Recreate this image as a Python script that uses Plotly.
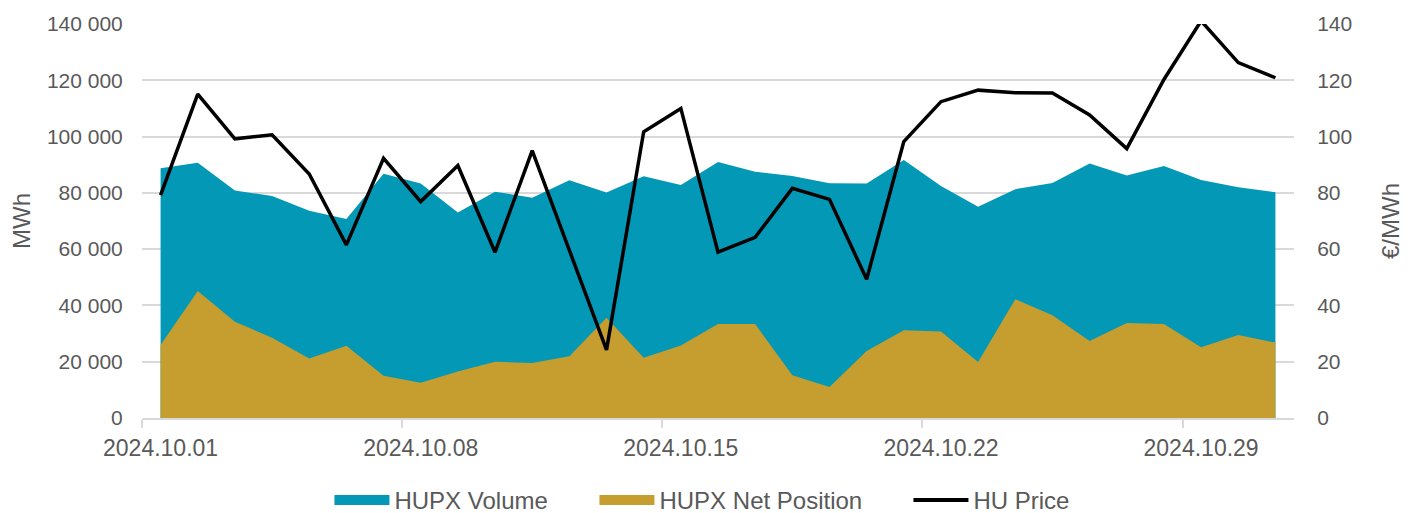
import pandas as pd
import plotly.graph_objects as go

dates = pd.date_range("2024-10-01", "2024-10-31", freq="D")

hupx_volume = [88700, 90700, 80800, 78900, 73600, 70700, 86800, 83300, 73000, 80400,
               78300, 84500, 80100, 85900, 82800, 91000, 87500, 86000, 83400, 83300,
               91700, 82400, 75100, 81300, 83500, 90400, 86200, 89500, 84600, 82000, 80200]
hupx_net_position = [25900, 45100, 34200, 28500, 21100, 25700, 15000, 12500, 16500, 20000,
                     19500, 21900, 35600, 21400, 25800, 33400, 33400, 15200, 11000, 23800,
                     31200, 30700, 19900, 42200, 36500, 27400, 33800, 33400, 25100, 29500, 26800]
hu_price = [79.2, 115.1, 99.2, 100.6, 86.7, 61.5, 92.3, 76.9, 89.7, 58.9,
            95.0, 59.5, 24.2, 101.7, 110.0, 58.9, 64.2, 81.6, 77.7, 49.3,
            98.2, 112.4, 116.5, 115.6, 115.5, 107.7, 95.7, 120.3, 141.1, 126.3, 120.9]

tick_dates = ["2024-10-01", "2024-10-08", "2024-10-15", "2024-10-22", "2024-10-29"]
tick_labels = ["2024.10.01", "2024.10.08", "2024.10.15", "2024.10.22", "2024.10.29"]
minor_tick_dates = ["2024-09-30 12:00", "2024-10-07 12:00", "2024-10-14 12:00",
                    "2024-10-21 12:00", "2024-10-28 12:00"]

VOL_COLOR = "#0398B6"
NET_COLOR = "#C69D2F"
TEXT = "#595959"
GRID = "#D9D9D9"
FONT = "Liberation Sans, Arial, sans-serif"

fig = go.Figure()
fig.add_trace(go.Scatter(x=dates, y=hupx_volume, name="HUPX Volume", mode="none",
                         fill="tozeroy", fillcolor=VOL_COLOR, showlegend=False))
fig.add_trace(go.Scatter(x=dates, y=hupx_net_position, name="HUPX Net Position", mode="none",
                         fill="tozeroy", fillcolor=NET_COLOR, showlegend=False))
fig.add_trace(go.Scatter(x=dates, y=hu_price, name="HU Price", mode="lines",
                         line=dict(color="black", width=3.5), yaxis="y2", showlegend=False))

# legend entries (thick swatches like the original's filled-area keys)
fig.add_trace(go.Scatter(x=[None], y=[None], name="HUPX Volume", mode="lines",
                         line=dict(color=VOL_COLOR, width=12), legendwidth=195))
fig.add_trace(go.Scatter(x=[None], y=[None], name="HUPX Net Position", mode="lines",
                         line=dict(color=NET_COLOR, width=12), legendwidth=244))
fig.add_trace(go.Scatter(x=[None], y=[None], name="HU Price", mode="lines",
                         line=dict(color="black", width=4), yaxis="y2"))

# page body has an 8px margin, so the figure is sized/offset to compensate
fig.update_layout(
    width=1400, height=505,
    margin=dict(l=134, r=114, t=16, b=95, autoexpand=False),
    paper_bgcolor="white", plot_bgcolor="white",
    separators=". ",
    font=dict(family=FONT, color=TEXT, size=21),
    showlegend=True,
    legend=dict(orientation="h", x=0.4865, xanchor="center",
                yref="container", y=0.025, yanchor="middle",
                itemwidth=55,
                font=dict(size=24, color=TEXT), traceorder="normal"),
    xaxis=dict(
        range=["2024-09-30 12:00", "2024-10-31 12:00"],
        tickmode="array", tickvals=tick_dates, ticktext=tick_labels,
        ticks="outside", ticklen=9, tickcolor="rgba(0,0,0,0)",
        tickfont=dict(size=23, color=TEXT),
        showgrid=False, showline=True, linecolor=GRID, linewidth=1.5,
        minor=dict(tickmode="array", tickvals=minor_tick_dates, ticks="outside",
                   ticklen=8, tickcolor=GRID, tickwidth=1.5, showgrid=False),
        zeroline=False, automargin=False,
    ),
    yaxis=dict(
        range=[0, 140000], dtick=20000, tickformat=",d",
        ticks="outside", ticklen=14, tickcolor="rgba(0,0,0,0)",
        tickfont=dict(size=21, color=TEXT),
        showgrid=True, gridcolor=GRID, gridwidth=1.5, zeroline=False,
        title=dict(text="MWh", font=dict(size=24, color=TEXT), standoff=30),
        automargin=False,
    ),
    yaxis2=dict(
        range=[0, 140], dtick=20, overlaying="y", side="right",
        ticks="outside", ticklen=18, tickcolor="rgba(0,0,0,0)",
        tickfont=dict(size=21, color=TEXT),
        showgrid=False, zeroline=False,
        title=dict(text="€/MWh", font=dict(size=24, color=TEXT), standoff=30),
        automargin=False,
    ),
)

fig.write_html("out.html")
